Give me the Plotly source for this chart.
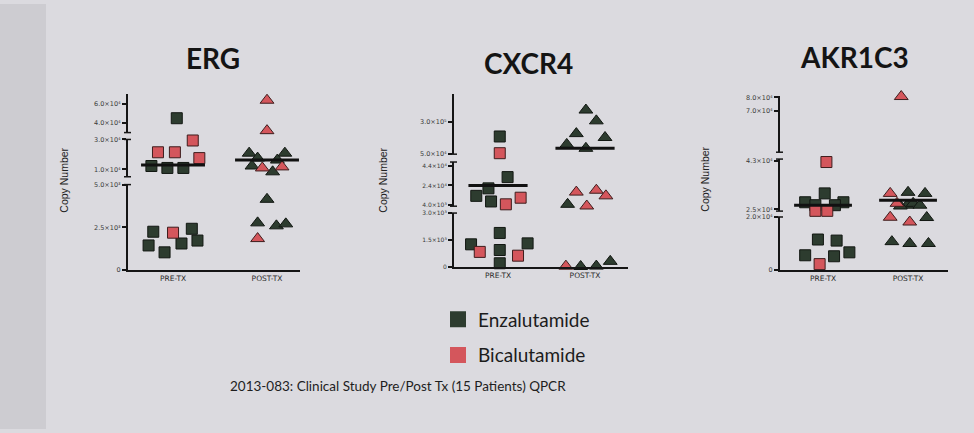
import plotly.graph_objects as go

# ---------------- data ----------------
genes = ["ERG", "CXCR4", "AKR1C3"]
groups = ["PRE-TX", "POST-TX"]
drugs = ["Enzalutamide", "Bicalutamide"]

# ERG
erg_pre_enz = [45000, 12200, 10900, 10900, 2241, 2414, 1437, 1034, 1552, 1724]
erg_pre_enz_dx = [0.04, -0.23, -0.06, 0.11, -0.21, 0.20, -0.26, -0.09, 0.09, 0.26]
erg_pre_bic = [21400, 21400, 29300, 17500, 2184]
erg_pre_bic_dx = [-0.16, 0.02, 0.21, 0.28, 0.0]
erg_post_enz = [20800, 20800, 17500, 12200, 8300, 16200, 4138, 2759, 2586, 2701]
erg_post_enz_dx = [-0.19, 0.19, -0.10, -0.16, 0.06, 0.11, 0.0, -0.10, 0.10, 0.20]
erg_post_bic = [63800, 32000, 10900, 11600, 1839]
erg_post_bic_dx = [0.0, 0.0, -0.05, 0.16, -0.10]
erg_medians = [12900, 16200]

# CXCR4
cxcr4_pre_enz = [186000, 32500, 21100, 13500, 7800, 1895, 1263, 1316, 947, 211]
cxcr4_pre_enz_dx = [0.02, 0.11, -0.11, -0.25, -0.08, 0.02, -0.31, 0.34, 0.02, 0.02]
cxcr4_pre_bic = [57500, 4900, 11600, 842, 632]
cxcr4_pre_bic_dx = [0.02, 0.09, 0.26, -0.21, 0.23]
cxcr4_post_enz = [389000, 306000, 208000, 178000, 125000, 95000, 4900, 30, 53, 316]
cxcr4_post_enz_dx = [0.01, 0.13, -0.10, 0.23, -0.21, 0.01, -0.20, -0.05, 0.13, 0.29]
cxcr4_post_bic = [17300, 19200, 13500, 3200, 50]
cxcr4_post_bic_dx = [-0.10, 0.13, 0.24, 0.02, -0.22]
cxcr4_medians = [24000, 95000]

# AKR1C3
akr1c3_pre_enz = [30900, 27600, 26500, 27600, 26500, 11500, 11100, 5550, 5180, 6660]
akr1c3_pre_enz_dx = [0.02, -0.21, -0.09, 0.24, 0.14, -0.06, 0.16, -0.21, 0.13, 0.31]
akr1c3_pre_bic = [42600, 24400, 24400, 2220]
akr1c3_pre_bic_dx = [0.04, -0.09, 0.05, -0.04]
akr1c3_post_enz = [31300, 30900, 26500, 27200, 26500, 26200, 19800, 10700, 10000, 10000]
akr1c3_post_enz_dx = [0.0, 0.20, -0.01, 0.06, 0.14, -0.09, 0.22, -0.19, 0.02, 0.24]
akr1c3_post_bic = [80500, 30900, 27200, 19900, 18100]
akr1c3_post_bic_dx = [-0.08, -0.21, -0.13, -0.21, 0.02]
akr1c3_medians = [26500, 28300]

# broken-axis segments (bottom -> top) and their tick labels
erg_segments = [(0, 5000), (5000, 30000), (30000, 70000)]
erg_tickvals = [[0, 2500, 5000], [10000, 30000], [40000, 60000]]
erg_ticktext = [["0", "2.5×10³", "5.0×10³"], ["1.0×10⁴", "3.0×10⁴"], ["4.0×10⁴", "6.0×10⁴"]]

cxcr4_segments = [(0, 3000), (3000, 47800), (50000, 510000)]
cxcr4_tickvals = [[0, 1500, 3000], [4000, 24000, 44000], [50000, 300000]]
cxcr4_ticktext = [["0", "1.5×10³", "3.0×10³"], ["4.0×10³", "2.4×10⁴", "4.4×10⁴"], ["5.0×10⁴", "3.0×10⁵"]]

akr1c3_segments = [(0, 20000), (24300, 43700), (40000, 80700)]
akr1c3_tickvals = [[0, 20000], [25000, 43000], [70000, 80000]]
akr1c3_ticktext = [["0", "2.0×10⁴"], ["2.5×10⁴", "4.3×10⁴"], ["7.0×10⁴", "8.0×10⁴"]]

DATA = {
    "ERG": dict(vals=[[erg_pre_enz, erg_pre_bic], [erg_post_enz, erg_post_bic]],
                dx=[[erg_pre_enz_dx, erg_pre_bic_dx], [erg_post_enz_dx, erg_post_bic_dx]],
                med=erg_medians, seg=erg_segments, tv=erg_tickvals, tt=erg_ticktext),
    "CXCR4": dict(vals=[[cxcr4_pre_enz, cxcr4_pre_bic], [cxcr4_post_enz, cxcr4_post_bic]],
                  dx=[[cxcr4_pre_enz_dx, cxcr4_pre_bic_dx], [cxcr4_post_enz_dx, cxcr4_post_bic_dx]],
                  med=cxcr4_medians, seg=cxcr4_segments, tv=cxcr4_tickvals, tt=cxcr4_ticktext),
    "AKR1C3": dict(vals=[[akr1c3_pre_enz, akr1c3_pre_bic], [akr1c3_post_enz, akr1c3_post_bic]],
                   dx=[[akr1c3_pre_enz_dx, akr1c3_pre_bic_dx], [akr1c3_post_enz_dx, akr1c3_post_bic_dx]],
                   med=akr1c3_medians, seg=akr1c3_segments, tv=akr1c3_tickvals, tt=akr1c3_ticktext),
}

# ---------------- layout geometry (pixels) ----------------
W, H = 974, 433
def fx(px): return px / W
def fy(py): return 1 - py / H

GEOM = {
    "ERG": dict(xpx=(128, 300), xr=(-0.479, 1.351), seg_px=[(271, 184), (176, 138), (131, 92)],
                title=(213, 55), ylab=(64, 180), tfs=[6.5, 6.5, 6.5]),
    "CXCR4": dict(xpx=(454, 628), xr=(-0.506, 1.494), seg_px=[(268, 213), (206, 161), (153, 92)],
                  title=(528, 60), ylab=(383, 180), tfs=[6, 6, 6.5]),
    "AKR1C3": dict(xpx=(780, 948), xr=(-0.506, 1.47), seg_px=[(271, 217), (211, 158), (151, 94)],
                   title=(854, 54), ylab=(705, 179), tfs=[6.5, 6.5, 6.5]),
}

GREEN, GREEN_EDGE = "#2d3c2f", "#121712"
RED, RED_EDGE = "#d4565c", "#3e1d1d"
fill = [GREEN, RED]
edge = [GREEN_EDGE, RED_EDGE]
symbols = ["square", "triangle-up"]
sizes = [11, 12]

fig = go.Figure()
layout = dict(width=W, height=H, margin=dict(l=0, r=0, t=0, b=0),
              paper_bgcolor="#dbdadf", plot_bgcolor="rgba(0,0,0,0)", showlegend=True)
shapes = [dict(type="rect", xref="paper", yref="paper", x0=0, x1=fx(46), y0=0, y1=1,
               fillcolor="#cdccd1", line=dict(width=0), layer="below")]
annotations = []

def seg_of(v, segs):
    for i, (lo, hi) in enumerate(segs):
        if lo <= v <= hi:
            return i
    return min(range(len(segs)), key=lambda i: min(abs(v - segs[i][0]), abs(v - segs[i][1])))

for p, gene in enumerate(genes):
    d, g = DATA[gene], GEOM[gene]
    xname = "x" if p == 0 else f"x{p+1}"
    xkey = "xaxis" if p == 0 else f"xaxis{p+1}"
    ynames = []
    for s in range(3):
        n = p * 3 + s + 1
        ynames.append("y" if n == 1 else f"y{n}")
        ykey = "yaxis" if n == 1 else f"yaxis{n}"
        b, t = g["seg_px"][s]
        layout[ykey] = dict(domain=[fy(b), fy(t)], range=list(d["seg"][s]), anchor=xname,
                            showline=True, linecolor="#151515", linewidth=2,
                            ticks="outside", ticklen=4, tickwidth=1.5, tickcolor="#151515",
                            tickmode="array", tickvals=d["tv"][s], ticktext=d["tt"][s],
                            tickfont=dict(family="DejaVu Sans", size=g["tfs"][s], color="#3a3a3a"),
                            showgrid=False, zeroline=False, fixedrange=True)
    layout[xkey] = dict(domain=[fx(g["xpx"][0]), fx(g["xpx"][1])], range=list(g["xr"]),
                        anchor=ynames[0], showline=True, linecolor="#151515", linewidth=2,
                        ticks="", tickmode="array", tickvals=[0, 1], ticktext=groups,
                        tickfont=dict(family="DejaVu Sans", size=7.5, color="#2a2a2a"),
                        showgrid=False, zeroline=False)
    # break caps
    ax = g["xpx"][0]
    for s in range(3):
        ends = []
        if s > 0:
            ends.append(0)
        if s < 2:
            ends.append(1)
        for e in ends:
            shapes.append(dict(type="line", xref="paper", yref=f"{ynames[s]} domain",
                               x0=fx(ax - 4), x1=fx(ax + 3), y0=e, y1=e,
                               line=dict(color="#151515", width=1.5)))
    # points
    for gi in range(2):
        for di in range(2):
            vals, dxs = d["vals"][gi][di], d["dx"][gi][di]
            for s in range(3):
                xs = [gi + dx for v, dx in zip(vals, dxs) if seg_of(v, d["seg"]) == s]
                ys = [v for v in vals if seg_of(v, d["seg"]) == s]
                if not ys:
                    continue
                fig.add_trace(go.Scatter(
                    x=xs, y=ys, xaxis=xname, yaxis=ynames[s], mode="markers",
                    marker=dict(symbol=symbols[gi], size=sizes[gi], color=fill[di],
                                line=dict(color=edge[di], width=1)),
                    cliponaxis=False, showlegend=False, legendgroup=drugs[di],
                    name=drugs[di]))
    # median lines
    for gi, m in enumerate(d["med"]):
        s = seg_of(m, d["seg"])
        fig.add_trace(go.Scatter(x=[gi - 0.34, gi + 0.34], y=[m, m], xaxis=xname, yaxis=ynames[s],
                                 mode="lines", line=dict(color="#111111", width=3),
                                 cliponaxis=False, showlegend=False, hoverinfo="skip"))
    # titles and axis labels
    annotations.append(dict(text=f"<b>{gene}</b>", x=fx(g["title"][0]), y=fy(g["title"][1]),
                            xref="paper", yref="paper", xanchor="center", yanchor="middle",
                            showarrow=False,
                            font=dict(family="Lato", size=28, color="#141414")))
    annotations.append(dict(text="Copy Number", x=fx(g["ylab"][0]), y=fy(g["ylab"][1]),
                            xref="paper", yref="paper", xanchor="center", yanchor="middle",
                            showarrow=False, textangle=-90,
                            font=dict(family="Liberation Sans Narrow, Liberation Sans", size=10.5,
                                      color="#222222")))

# legend entries
for di in range(2):
    fig.add_trace(go.Scatter(x=[None], y=[None], mode="markers", name=drugs[di],
                             legendgroup=drugs[di], showlegend=True,
                             marker=dict(symbol="square", size=16, color=fill[di],
                                         line=dict(color=edge[di], width=0))))

annotations.append(dict(text="2013-083: Clinical Study Pre/Post Tx (15 Patients) QPCR",
                        x=fx(228), y=fy(389), xref="paper", yref="paper", xanchor="left",
                        yanchor="middle", showarrow=False,
                        font=dict(family="Lato", size=13.5, color="#1e1e1e")))

layout["legend"] = dict(x=fx(438), y=fy(302), xanchor="left", yanchor="top",
                        bgcolor="rgba(0,0,0,0)", tracegroupgap=8, traceorder="grouped",
                        font=dict(family="Lato", size=19, color="#1c1c1c"))
layout["shapes"] = shapes
layout["annotations"] = annotations
fig.update_layout(**layout)
fig.write_html("out.html")
